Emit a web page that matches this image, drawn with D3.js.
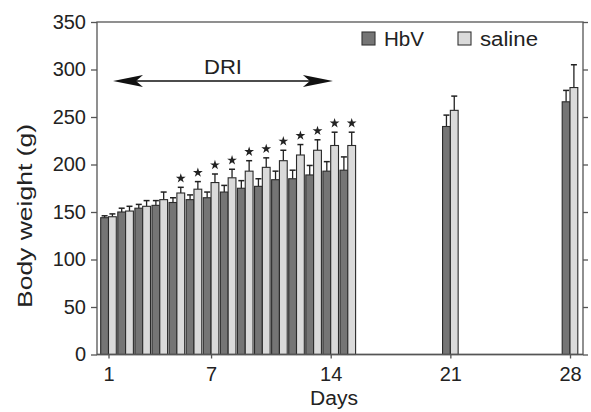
<!DOCTYPE html>
<html>
<head>
<meta charset="utf-8">
<script src="https://cdn.jsdelivr.net/npm/d3@7"></script>
<style>
  html, body { margin: 0; padding: 0; background: #fff; }
  svg { display: block; font-family: "Liberation Sans", Arial, Helvetica, sans-serif; }
</style>
</head>
<body>
<svg id="chart" width="591" height="412"></svg>
<script>
// Body weight by day for the two groups (mean, upward SD)
const days       = [1, 2, 3, 4, 5, 6, 7, 8, 9, 10, 11, 12, 13, 14, 15, 21, 28];
const hbv        = [144, 150, 154, 157, 160, 163, 165, 171, 175, 177, 184, 185, 189, 193, 194, 240, 266];
const hbvErr     = [2, 4, 4, 5, 5, 5, 6, 7, 8, 8, 9, 9, 10, 10, 14, 12, 12];
const saline     = [145, 151, 156, 163, 170, 174, 181, 186, 193, 197, 204, 210, 215, 220, 220, 257, 281];
const salineErr  = [3, 5, 6, 8, 6, 8, 9, 9, 11, 10, 11, 11, 11, 14, 14, 15, 24];
// days where the difference is significant (star above saline bar)
const starDays   = [5, 6, 7, 8, 9, 10, 11, 12, 13, 14, 15];
const xTicks     = [1, 7, 14, 21, 28];
const yTicks     = [0, 50, 100, 150, 200, 250, 300, 350];
const seriesNames = ["HbV", "saline"];
const driSpan    = [1, 14.1];

const svg = d3.select("#chart");
const L = 97, R = 583, T = 22, B = 354.5;
const x = d3.scaleLinear().domain([1, 28]).range([108.5, 570]);
const y = d3.scaleLinear().domain([0, 350]).range([B, T]);
const colors = { HbV: "#757575", saline: "#dadada" };
const bw = 7.8;

// bars with upward error bars
const rows = days.map((d, i) => ({ d, h: hbv[i], he: hbvErr[i], s: saline[i], se: salineErr[i] }));
const g = svg.append("g");
rows.forEach(r => {
  [["HbV", r.h, r.he, x(r.d) - bw], ["saline", r.s, r.se, x(r.d)]].forEach(([name, v, e, bx]) => {
    const cx = bx + bw / 2;
    g.append("line").attr("x1", cx).attr("x2", cx).attr("y1", y(v)).attr("y2", y(v + e))
      .attr("stroke", "#222").attr("stroke-width", 1.3);
    g.append("line").attr("x1", cx - 3).attr("x2", cx + 3).attr("y1", y(v + e)).attr("y2", y(v + e))
      .attr("stroke", "#222").attr("stroke-width", 1.5);
    g.append("rect").attr("x", bx).attr("y", y(v)).attr("width", bw).attr("height", B - y(v))
      .attr("fill", colors[name]).attr("stroke", "#2a2a2a").attr("stroke-width", 1.1);
  });
});

// significance stars
const star = d3.symbol().type(d3.symbolStar).size(30);
starDays.forEach(d => {
  const i = days.indexOf(d);
  svg.append("path").attr("d", star())
    .attr("transform", `translate(${x(d) + bw / 2},${y(saline[i] + salineErr[i]) - 9})`)
    .attr("fill", "#222");
});

// frame and axes
const axisColor = "#555";
svg.append("rect").attr("x", L).attr("y", T).attr("width", R - L).attr("height", B - T)
  .attr("fill", "none").attr("stroke", axisColor).attr("stroke-width", 1.3);

const yAxis = svg.append("g").attr("transform", `translate(${L},0)`)
  .call(d3.axisLeft(y).tickValues(yTicks).tickSize(6).tickPadding(5));
const yAxisR = svg.append("g").attr("transform", `translate(${R},0)`)
  .call(d3.axisRight(y).tickValues(yTicks).tickSize(5).tickFormat(""));
const xAxis = svg.append("g").attr("transform", `translate(0,${B})`)
  .call(d3.axisBottom(x).tickValues(xTicks).tickSize(4).tickPadding(8));
[yAxis, yAxisR, xAxis].forEach(a => {
  a.select(".domain").remove();
  a.selectAll(".tick line").attr("stroke", axisColor).attr("stroke-width", 1.3);
  a.selectAll("text").attr("fill", "#222").attr("font-size", 20)
    .attr("font-family", '"Liberation Sans", Arial, sans-serif');
});
svg.append("line").attr("x1", L).attr("x2", R).attr("y1", B).attr("y2", B)
  .attr("stroke", axisColor).attr("stroke-width", 1.5);

// axis titles
svg.append("text").attr("transform", `translate(32,216) rotate(-90)`)
  .attr("text-anchor", "middle").attr("font-size", 20).attr("fill", "#222")
  .attr("textLength", 184).attr("lengthAdjust", "spacingAndGlyphs")
  .text("Body weight (g)");
svg.append("text").attr("x", 334).attr("y", 405).attr("text-anchor", "middle")
  .attr("font-size", 20).attr("fill", "#222")
  .attr("textLength", 48).attr("lengthAdjust", "spacingAndGlyphs").text("Days");

// legend
const legendX = [362, 458], legendTextW = [40, 58];
seriesNames.forEach((n, i) => {
  svg.append("rect").attr("x", legendX[i]).attr("y", 32).attr("width", 13).attr("height", 13)
    .attr("fill", colors[n]).attr("stroke", "#333").attr("stroke-width", 1.1);
  svg.append("text").attr("x", legendX[i] + 22).attr("y", 46).attr("font-size", 20).attr("fill", "#222")
    .attr("textLength", legendTextW[i]).attr("lengthAdjust", "spacingAndGlyphs").text(n);
});

// DRI double arrow
const ay = 81, ax0 = x(driSpan[0]) + 4.5, ax1 = x(driSpan[1]) + 0.5;
svg.append("line").attr("x1", ax0 + 10).attr("x2", ax1 - 10).attr("y1", ay).attr("y2", ay)
  .attr("stroke", "#111").attr("stroke-width", 1.4);
const head = (tip, dir) => {
  const p = [[tip, ay], [tip + dir * 30, ay - 6], [tip + dir * 23, ay], [tip + dir * 30, ay + 6]];
  svg.append("path").attr("d", "M" + p.map(q => q.join(",")).join("L") + "Z").attr("fill", "#111");
};
head(ax0, 1);
head(ax1, -1);
svg.append("text").attr("x", (ax0 + ax1) / 2).attr("y", 74).attr("text-anchor", "middle")
  .attr("font-size", 20).attr("fill", "#222")
  .attr("textLength", 38).attr("lengthAdjust", "spacingAndGlyphs").text("DRI");
</script>
</body>
</html>
